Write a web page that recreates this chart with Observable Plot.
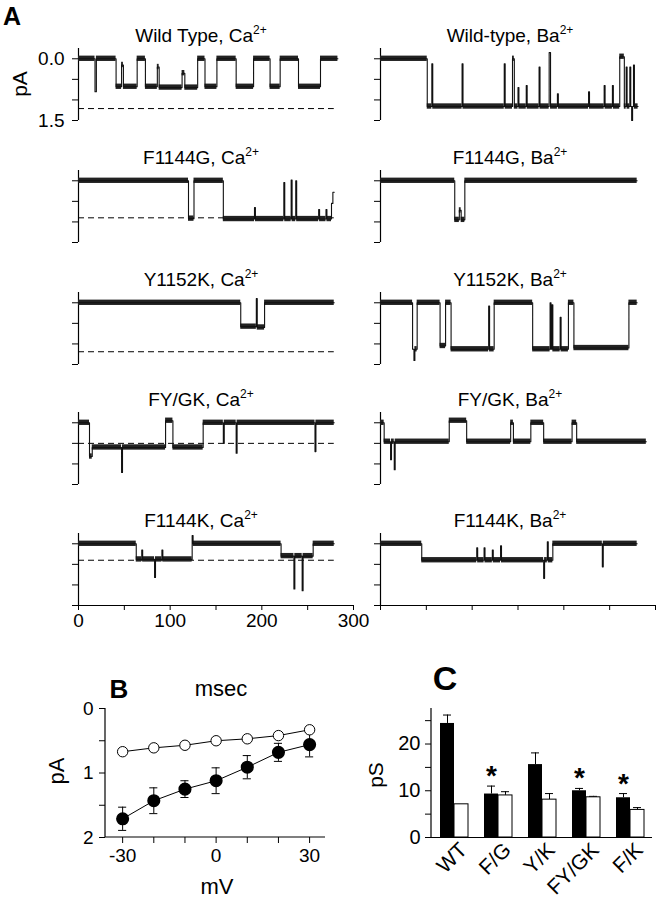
<!DOCTYPE html>
<html><head><meta charset="utf-8">
<script src="https://cdn.jsdelivr.net/npm/d3@7"></script>
<script src="https://cdn.jsdelivr.net/npm/@observablehq/plot@0.6"></script>
<style>
body{margin:0;background:#fff;font-family:"Liberation Sans",Arial,sans-serif;color:#000;}
#fig{position:relative;width:658px;height:900px;overflow:hidden;background:#fff;}
.lab{position:absolute;white-space:nowrap;line-height:1;}
.lab sup{font-size:12px;vertical-align:super;line-height:0;}
.wrap{position:absolute;}
</style></head><body><div id="fig"></div>
<script>
// ---------- Panel A data: single-channel records as [time ms, current pA] level changes ----------
const caTitles = ["Wild Type", "F1144G", "Y1152K", "FY/GK", "F1144K"];
const baTitles = ["Wild-type", "F1144G", "Y1152K", "FY/GK", "F1144K"];
const dashLevels = [1.21, 0.90, 1.19, 0.50, 0.40];
const dashEnd = 279;
const timeTicks = [0, 50, 100, 150, 200, 250, 300];
const timeLabels = [0, 100, 200, 300];
const currentTicks = [0, 0.5, 1, 1.5];

const traceWtCa = [[0,0],[18,0.8],[19.5,0],[41,0.68],[47,0.15],[49,0.68],[64,0],[73,0.68],[86,0.2],[88,0.7],[113,0.35],[116,0.7],[130,0],[138,0.68],[151,0],[172,0.68],[191,0],[209,0.68],[220,0],[240,0.68],[264,0],[283,0]];
const traceWtBa = [[0,0],[51,1.16],[56,0.12],[57,1.16],[89,0.12],[90,1.16],[135,0.12],[136,1.16],[144,0],[146,1.16],[150,0.7],[151,1.16],[159,0.65],[160,1.16],[173,0.2],[174,1.16],[184,-0.15],[185.5,1.16],[193,0.85],[194,1.16],[227,0.8],[228,1.16],[244,0.65],[245,1.16],[253,0.65],[254,1.16],[261,-0.05],[266,1.16],[268,0.2],[269,1.16],[272,0.2],[273,1.16],[274,1.5],[275,1.16],[276,0.15],[277,1.16],[281,1.16]];
const traceF1144gCa = [[0,0],[120,0.92],[126,0],[158,0.93],[192,0.65],[193,0.93],[224,0.04],[225,0.93],[232,-0.02],[233,0.93],[237,0],[238,0.93],[262,0.7],[263,0.93],[270,0.7],[271,0.93],[276,0.55],[277.5,0.28],[279,0.28]];
const traceF1144gBa = [[0,0],[81,0.95],[86,0.72],[88,0.95],[92,0],[280,0]];
const traceY1152kCa = [[0,0],[177,0.58],[194,-0.1],[195,0.6],[203,0],[279,0]];
const traceY1152kBa = [[0,0],[35,1.13],[36.5,1.4],[37.5,1.13],[40,0],[65,1.05],[71,0],[77,1.13],[118,0.08],[119,1.13],[124,0],[166,1.13],[185,0],[186,1.13],[187,0.05],[188,1.13],[196,0.35],[197,1.13],[205,0],[211,1.1],[271,0],[280,0]];
const traceFygkCa = [[0,0],[12,0.82],[15,0.6],[47,1.21],[48,0.6],[95,-0.05],[103,0.6],[136,0],[158,0.5],[159,0],[172,0.74],[173,0],[258,0.7],[259,0],[279,0]];
const traceFygkBa = [[0,0],[4,0.46],[11,0.9],[12,0.46],[15,1.14],[16,0.46],[75,-0.05],[94,0.46],[142,0],[145,0.46],[164,0],[178,0.46],[209,0],[214,0.46],[290,0.46]];
const traceF1144kCa = [[0,0],[63,0.38],[69,0.15],[70,0.38],[83,0.82],[84,0.38],[91,0.15],[92,0.38],[124,-0.2],[125,0],[221,0.3],[235,1.1],[236,0.3],[244,1.14],[245,0.3],[256,0],[279,0]];
const traceF1144kBa = [[0,0],[45,0.4],[105,0.1],[106,0.4],[113,0.1],[114,0.4],[122,0.15],[123,0.4],[131,0.05],[132,0.4],[178,0.84],[179,0.4],[182,-0.05],[183,0.4],[188,0],[242,0.56],[243,0],[280,0]];

const caTraces = [traceWtCa, traceF1144gCa, traceY1152kCa, traceFygkCa, traceF1144kCa];
const baTraces = [traceWtBa, traceF1144gBa, traceY1152kBa, traceFygkBa, traceF1144kBa];

// ---------- Panel B data ----------
const ivVoltage = [-30, -20, -10, 0, 10, 20, 30];
const ivBa = [0.67, 0.61, 0.57, 0.50, 0.47, 0.42, 0.33];
const ivCa = [1.71, 1.43, 1.25, 1.12, 0.91, 0.68, 0.56];
const ivCaErr = [0.18, 0.20, 0.13, 0.20, 0.18, 0.14, 0.19];

// ---------- Panel C data ----------
const mutants = ["WT", "F/G", "Y/K", "FY/GK", "F/K"];
const gCa = [24.4, 9.3, 15.6, 10.0, 8.5];
const gCaErr = [1.8, 1.7, 2.5, 0.5, 0.9];
const gBa = [7.1, 9.0, 8.1, 8.6, 5.9];
const gBaErr = [0, 0.8, 1.3, 0.2, 0.5];
const significant = ["F/G", "FY/GK", "F/K"];

// ---------- helpers ----------
const fig = document.getElementById("fig");
const FONT = "Liberation Sans, Arial, sans-serif";
function label(html, x, y, size, opts = {}) {
  const d = document.createElement("div");
  d.className = "lab";
  d.innerHTML = html;
  d.style.left = x + "px";
  d.style.top = y + "px";
  d.style.fontSize = size + "px";
  if (opts.bold) d.style.fontWeight = "bold";
  d.style.transform = "translate(-50%,-50%)" + (opts.rotate ? " rotate(" + opts.rotate + "deg)" : "");
  fig.appendChild(d);
}
function place(svg, x, y) {
  const w = document.createElement("div");
  w.className = "wrap";
  w.style.left = x + "px";
  w.style.top = y + "px";
  w.appendChild(svg);
  fig.appendChild(w);
}
const svgStyle = (fs) => ({background: "transparent", overflow: "visible", fontFamily: FONT, fontSize: fs + "px", color: "#000"});
function sideLine(which) {
  return (index, scales, values, dims) => {
    const l = document.createElementNS("http://www.w3.org/2000/svg", "line");
    if (which === "left") {
      l.setAttribute("x1", dims.marginLeft); l.setAttribute("x2", dims.marginLeft);
      l.setAttribute("y1", dims.marginTop); l.setAttribute("y2", dims.height - dims.marginBottom);
    } else {
      l.setAttribute("x1", dims.marginLeft); l.setAttribute("x2", dims.width - dims.marginRight);
      l.setAttribute("y1", dims.height - dims.marginBottom); l.setAttribute("y2", dims.height - dims.marginBottom);
    }
    l.setAttribute("stroke", "black");
    l.setAttribute("stroke-width", 1.2);
    return l;
  };
}

// ---------- Panel A ----------
const rowZero = [58, 180, 302, 422, 543];
function tracePlot(steps, o) {
  const segs = [];
  for (let i = 0; i < steps.length - 1; i++) {
    const t0 = steps[i][0], t1 = steps[i + 1][0], v = steps[i][1];
    if (t1 - t0 >= 2) segs.push({t0, t1, v});
  }
  const marks = [
    Plot.ruleX([0], {strokeWidth: 1.2}),
    Plot.axisY({ticks: currentTicks, tickSize: 6, tickPadding: 8, label: null,
      tickFormat: o.yLabels ? (d => d === 0 ? "0.0" : d === 1.5 ? "1.5" : "") : (() => "")})
  ];
  if (o.dash != null) marks.push(Plot.ruleY([o.dash], {x1: 0, x2: dashEnd, strokeDasharray: "6,4", strokeWidth: 1}));
  marks.push(Plot.rect(segs, {x1: "t0", x2: "t1", y1: d => d.v - 0.065, y2: d => d.v + 0.065, fill: "#222"}));
  marks.push(Plot.line(steps, {x: d => d[0], y: d => d[1], curve: "step-after", stroke: "#111", strokeWidth: 1.1}));
  if (o.xAxis) {
    marks.push(Plot.ruleY([1.5], {strokeWidth: 1.2}));
    marks.push(Plot.axisX({ticks: timeTicks, tickSize: 5, tickPadding: 3, label: null,
      tickFormat: o.xLabels ? (d => timeLabels.includes(d) ? String(d) : "") : (() => "")}));
  }
  return Plot.plot({
    width: o.width, height: o.xAxis ? 111 : 80,
    marginLeft: o.ml, marginRight: o.mr, marginTop: 4, marginBottom: o.xAxis ? 35 : 4,
    x: o.xAxis ? {domain: [0, 300]} : {domain: [0, 300], axis: null},
    y: {domain: [-0.25, 1.5], reverse: true},
    style: svgStyle(19),
    marks
  });
}
for (let r = 0; r < 5; r++) {
  const last = r === 4;
  place(tracePlot(caTraces[r], {width: 368, ml: 78, mr: 15, dash: dashLevels[r], yLabels: r === 0, xAxis: last, xLabels: true}), 0, rowZero[r] - 14);
  place(tracePlot(baTraces[r], {width: 298, ml: 20, mr: 3, dash: null, yLabels: false, xAxis: last, xLabels: false}), 360, rowZero[r] - 14);
  label(caTitles[r] + ", Ca<sup>2+</sup>", 201, rowZero[r] - 23, 19);
  label(baTitles[r] + ", Ba<sup>2+</sup>", 510, rowZero[r] - 23, 19);
}
label("A", 12, 16, 25, {bold: true});
label("pA", 19, 84, 21, {rotate: -90});

// ---------- Panel B ----------
const rowsB = ivVoltage.map((v, i) => ({v, ba: ivBa[i], ca: ivCa[i], err: ivCaErr[i]}));
const plotB = Plot.plot({
  width: 335, height: 200, marginLeft: 105, marginRight: 10, marginTop: 8, marginBottom: 63,
  x: {domain: [-35.5, 35.1]},
  y: {domain: [0, 2], reverse: true},
  style: svgStyle(19),
  marks: [
    Plot.line(rowsB, {x: "v", y: "ba", strokeWidth: 1}),
    Plot.line(rowsB, {x: "v", y: "ca", strokeWidth: 1}),
    Plot.ruleX(rowsB, {x: "v", y1: d => d.ca - d.err, y2: d => d.ca + d.err, strokeWidth: 1}),
    Plot.ruleY(rowsB, {y: d => d.ca - d.err, x1: d => d.v - 1.3, x2: d => d.v + 1.3, strokeWidth: 1}),
    Plot.ruleY(rowsB, {y: d => d.ca + d.err, x1: d => d.v - 1.3, x2: d => d.v + 1.3, strokeWidth: 1}),
    Plot.dot(rowsB, {x: "v", y: "ba", r: 5.2, fill: "white", stroke: "black", strokeWidth: 1}),
    Plot.dot(rowsB, {x: "v", y: "ca", r: 5.8, fill: "black", stroke: "black"}),
    sideLine("left"), sideLine("bottom"),
    Plot.axisX({ticks: ivVoltage, tickSize: 6, tickPadding: 5, label: null,
      tickFormat: d => [-30, 0, 30].includes(d) ? String(d) : ""}),
    Plot.axisY({ticks: [0, 0.5, 1, 1.5, 2], tickSize: 6, tickPadding: 6, label: null,
      tickFormat: d => Number.isInteger(d) ? String(d) : ""})
  ]
});
place(plotB, 0, 700);
label("B", 119, 689, 26, {bold: true});
label("msec", 221, 689, 22);
label("pA", 57, 771, 22, {rotate: -90});
label("mV", 217, 887, 22);

// ---------- Panel C ----------
const rowsC = mutants.map((m, i) => ({m, ca: gCa[i], caErr: gCaErr[i], ba: gBa[i], baErr: gBaErr[i]}));
const plotC = Plot.plot({
  width: 298, height: 200, marginLeft: 71, marginRight: 6, marginTop: 8, marginBottom: 63,
  x: {type: "band", domain: mutants, paddingInner: 0.683, paddingOuter: 0.3415},
  y: {domain: [0, 27.6]},
  style: svgStyle(20),
  marks: [
    Plot.ruleX(rowsC, {x: "m", y1: "ca", y2: d => d.ca + d.caErr, dx: -7, strokeWidth: 1}),
    Plot.tickY(rowsC, {x: "m", y: d => d.ca + d.caErr, dx: -7, insetLeft: 3, insetRight: 3, strokeWidth: 1}),
    Plot.ruleX(rowsC.filter(d => d.baErr > 0), {x: "m", y1: "ba", y2: d => d.ba + d.baErr, dx: 7, strokeWidth: 1}),
    Plot.tickY(rowsC.filter(d => d.baErr > 0), {x: "m", y: d => d.ba + d.baErr, dx: 7, insetLeft: 3, insetRight: 3, strokeWidth: 1}),
    Plot.barY(rowsC, {x: "m", y: "ca", fill: "black", dx: -7}),
    Plot.barY(rowsC, {x: "m", y: "ba", fill: "white", stroke: "black", strokeWidth: 1, dx: 7}),
    Plot.text(rowsC.filter(d => significant.includes(d.m)), {x: "m", y: d => d.ca + d.caErr, text: () => "*", dx: -7, dy: -10, fontSize: 28, fontWeight: "bold"}),
    Plot.ruleY([0], {strokeWidth: 1.2}),
    sideLine("left"),
    Plot.axisY({ticks: [0, 5, 10, 15, 20, 25], tickSize: 6, tickPadding: 5, label: null,
      tickFormat: d => d % 10 === 0 ? String(d) : ""}),
    Plot.axisX({tickRotate: -45, tickSize: 0, tickPadding: 6, dx: 9, dy: 3, label: null, fontSize: 21})
  ]
});
place(plotC, 360, 700);
label("C", 445, 678, 34, {bold: true});
label("pS", 375, 775, 21, {rotate: -90});
</script></body></html>
